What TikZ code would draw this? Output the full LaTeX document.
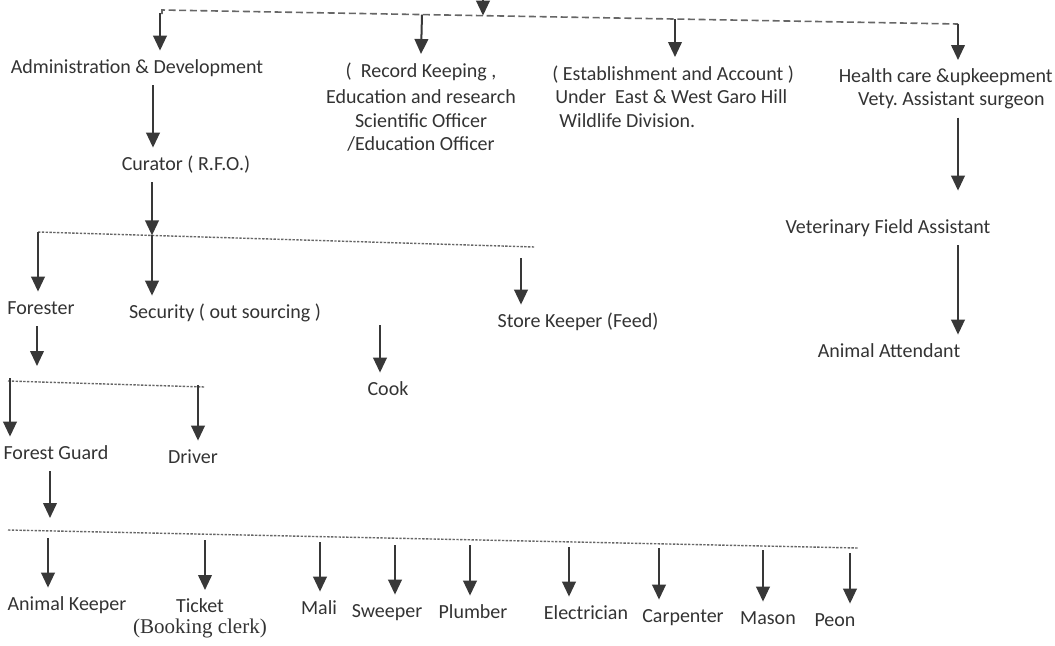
\documentclass[tikz,border=0pt]{standalone}
\usepackage{fontspec}
\setmainfont{Carlito}
\newfontfamily\bookfont{Liberation Serif}
\usetikzlibrary{arrows.meta}
\definecolor{txt}{HTML}{333333}
\definecolor{arrc}{HTML}{383838}
\definecolor{busc}{HTML}{666666}
\frenchspacing
\tikzset{
  lbl/.style={text=txt, font=\fontsize{10pt}{12pt}\selectfont, inner xsep=1pt, inner ysep=4pt, text height=7pt, text depth=2pt},
  mlbl/.style={text=txt, font=\fontsize{10pt}{11.8pt}\selectfont, inner xsep=1pt, inner ysep=4pt},
  arr/.style={draw=arrc, line width=1pt, -{Triangle[width=6.8pt,length=7.5pt]}},
  bustop/.style={draw=busc, line width=0.8pt, dash pattern=on 3.5pt off 1.8pt},
  busdot/.style={draw=busc, line width=0.7pt, dash pattern=on 1.2pt off 0.7pt}
}
\begin{document}
\begin{tikzpicture}[x=0.5pt,y=-0.5pt]
\useasboundingbox (0,0) rectangle (1055,645);

% ---------- nodes ----------
\node[lbl] (admin) at (137,68) {Administration \& Development};
\node[mlbl, align=center, anchor=north] (record) at (421,54)
  {(\ \ Record Keeping ,\\[1.5pt] Education and research\\ Scientific Officer\\ /Education Officer};
\node[mlbl, align=left, anchor=north west] (estab) at (550,57)
  {( Establishment and Account )\\ \hspace*{1.5pt}Under\ \ East \& West Garo Hill\\ \hspace*{3.5pt}Wildlife Division.};
\node[mlbl, align=right, anchor=north east] (health) at (1055,60)
  {Health care \&upkeepment\\ Vety. Assistant surgeon\hspace*{4pt}};
\node[lbl] (curator) at (186,165) {Curator ( R.F.O.)};
\node[lbl] (forester) at (41,309) {Forester};
\node[lbl] (security) at (225,313) {Security ( out sourcing )};
\node[lbl] (store) at (578,322) {Store Keeper (Feed)};
\node[lbl] (cook) at (388,390) {Cook};
\node[lbl] (vfa) at (888,228) {Veterinary Field Assistant};
\node[lbl] (attend) at (889,352) {Animal Attendant};
\node[lbl] (fguard) at (56,454) {Forest Guard};
\node[lbl] (driver) at (193,458) {Driver};
\node[lbl] (akeeper) at (67,605) {Animal Keeper};
\node[mlbl, align=center, anchor=north] (ticket) at (200,590)
  {Ticket\\[-1pt] {\bookfont\fontsize{10.5pt}{12pt}\selectfont(Booking clerk)}};
\node[lbl] (mali) at (319,609) {Mali};
\node[lbl] (sweeper) at (387,612) {Sweeper};
\node[lbl] (plumber) at (473,613) {Plumber};
\node[lbl] (electrician) at (586,614) {Electrician};
\node[lbl] (carpenter) at (683,617) {Carpenter};
\node[lbl] (mason) at (768,619) {Mason};
\node[lbl] (peon) at (835,621) {Peon};

% ---------- top bus ----------
\coordinate (b1s) at (162,10);
\coordinate (b1e) at (958,24);
\coordinate (b1admin) at (160,13);
\coordinate (b1rec) at (422,14.6);
\coordinate (b1in) at (483,15.6);
\coordinate (b1est) at (675,19);
\coordinate (b1top) at (483,-12);
\draw[bustop] (162,14) -- (b1s) -- (b1e);
\draw[arr] (b1top) -- (b1in);
\draw[arr] (b1admin) -- (b1admin |- admin.north);
\draw[arr] (b1rec) -- (record.north);
\draw[arr] (b1est) -- (b1est |- estab.north);
\draw[arr] (b1e) -- (b1e |- health.north);

% ---------- admin branch ----------
\draw[arr] (153,0 |- admin.south) -- (153,0 |- curator.north);
\coordinate (b2s) at (38,232);
\coordinate (b2e) at (535,247);
\coordinate (b2c) at (152,235.4);
\draw[busdot] (b2s) -- (b2e);
\draw[arr] (152,0 |- curator.south) -- (b2c);
\draw[arr] (b2c) -- (b2c |- security.north);
\draw[arr] (b2s) -- (b2s |- forester.north);
\coordinate (storetop) at (521,258);
\draw[arr] (storetop) -- (storetop |- store.north);
\coordinate (cooktop) at (380,325);
\draw[arr] (cooktop) -- (cooktop |- cook.north);

% ---------- forester branch ----------
\coordinate (fend) at (37,366);
\draw[arr] (37,0 |- forester.south) -- (fend);
\coordinate (b3s) at (8,381);
\coordinate (b3e) at (205,387);
\draw[busdot] (b3s) -- (b3e);
\coordinate (b3fg) at (10,378);
\coordinate (b3dr) at (198,385);
\draw[arr] (b3fg) -- (b3fg |- fguard.north);
\draw[arr] (b3dr) -- (b3dr |- driver.north);

% ---------- forest guard branch ----------
\coordinate (fgend) at (50,518);
\draw[arr] (50,0 |- fguard.south) -- (fgend);
\coordinate (b4s) at (8,530);
\coordinate (b4e) at (858,548);
\draw[busdot] (b4s) -- (b4e);
\coordinate (d1) at (48,538);
\coordinate (d2) at (205,540);
\coordinate (d3) at (320,542);
\coordinate (d4) at (395,545);
\coordinate (d5) at (470,545);
\coordinate (d6) at (569,547);
\coordinate (d7) at (659,548);
\coordinate (d8) at (763,550);
\coordinate (d9) at (850,553);
\draw[arr] (d1) -- (d1 |- akeeper.north);
\draw[arr] (d2) -- (d2 |- ticket.north);
\draw[arr] (d3) -- (d3 |- mali.north);
\draw[arr] (d4) -- (d4 |- sweeper.north);
\draw[arr] (d5) -- (d5 |- plumber.north);
\draw[arr] (d6) -- (d6 |- electrician.north);
\draw[arr] (d7) -- (d7 |- carpenter.north);
\draw[arr] (d8) -- (d8 |- mason.north);
\draw[arr] (d9) -- (d9 |- peon.north);

% ---------- veterinary branch ----------
\draw[arr, shorten >=10pt] (958,0 |- health.south) -- (958,0 |- vfa.north);
\draw[arr] (958,0 |- vfa.south) -- (958,0 |- attend.north);
\end{tikzpicture}
\end{document}
